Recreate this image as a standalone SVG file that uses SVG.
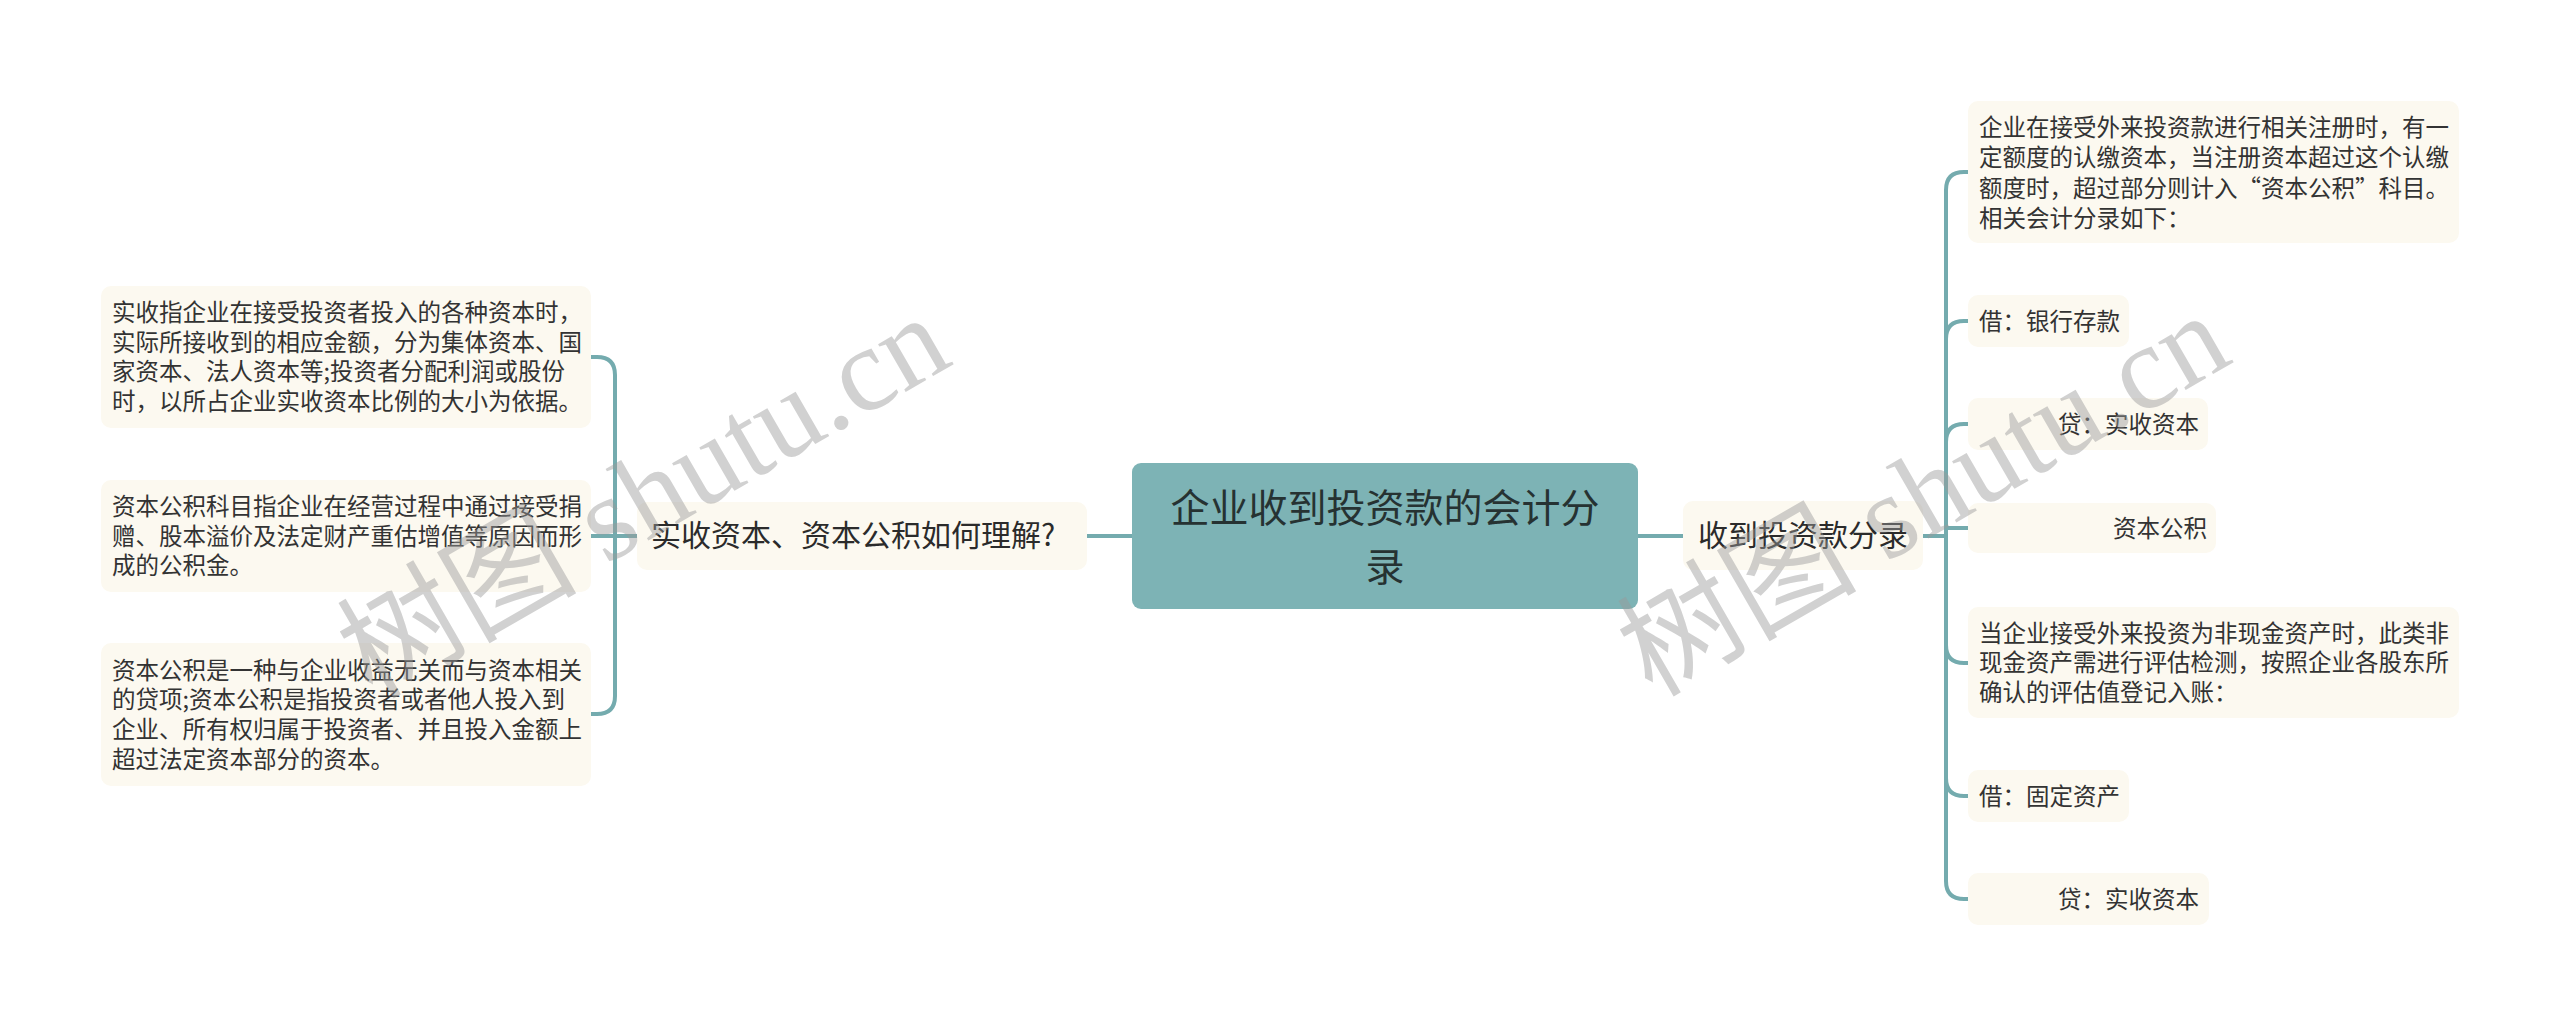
<svg xmlns="http://www.w3.org/2000/svg" width="2560" height="1027" viewBox="0 0 2560 1027">
<style>
.leaf{fill:#fcf9f0;}
.branch{fill:#fcf9f0;}
.root{fill:#7db3b5;}
.t{font-family:"Noto Sans CJK SC","Noto Sans",sans-serif;fill:#333333;}
.lt{font-size:23.5px;}
.bt{font-size:30px;fill:#2b2b2b;}
.rt{font-size:39px;fill:#263232;text-anchor:middle;}
.conn{fill:none;stroke:#74abae;stroke-width:4;stroke-linecap:round;}
.wm{font-family:"Liberation Serif","Noto Sans CJK SC",serif;font-size:120px;fill:#9a9a9a;opacity:0.45;}
</style>
<rect width="2560" height="1027" fill="#ffffff"/>
<g id="connectors">
<path class="conn" d="M1132 536 H1087"/>
<path class="conn" d="M1638 536 H1683"/>
<path class="conn" d="M637 536 H615"/>
<path class="conn" d="M615 536 V375 Q615 357 597 357 H591"/>
<path class="conn" d="M615 536 H591"/>
<path class="conn" d="M615 536 V696 Q615 714 597 714 H591"/>
<path class="conn" d="M1923 536 H1946"/>
<path class="conn" d="M1946 536 V190 Q1946 172 1964 172 H1968"/>
<path class="conn" d="M1946 536 V339 Q1946 321 1964 321 H1968"/>
<path class="conn" d="M1946 536 V442 Q1946 424 1964 424 H1968"/>
<path class="conn" d="M1946 528 H1968"/>
<path class="conn" d="M1946 536 V645 Q1946 663 1964 663 H1968"/>
<path class="conn" d="M1946 536 V778 Q1946 796 1964 796 H1968"/>
<path class="conn" d="M1946 536 V881 Q1946 899 1964 899 H1968"/>
</g>
<g id="root">
<rect class="root" x="1132" y="463" width="506" height="146" rx="9"/>
<text class="t rt" x="1385" y="522">企业收到投资款的会计分</text>
<text class="t rt" x="1385" y="581">录</text>
</g>
<g id="branch-left">
<rect class="branch" x="637" y="502" width="450" height="68" rx="10"/>
<text class="t bt" x="651" y="546">实收资本、资本公积如何理解?</text>
</g>
<g id="branch-right">
<rect class="branch" x="1683" y="501" width="240" height="69" rx="10"/>
<text class="t bt" x="1803" y="546" text-anchor="middle">收到投资款分录</text>
</g>
<g id="left-1">
<rect class="leaf" x="101" y="286" width="490" height="142" rx="10"/>
<text class="t lt" x="112" y="321">实收指企业在接受投资者投入的各种资本时，</text>
<text class="t lt" x="112" y="350.7">实际所接收到的相应金额，分为集体资本、国</text>
<text class="t lt" x="112" y="380.4">家资本、法人资本等;投资者分配利润或股份</text>
<text class="t lt" x="112" y="410.1">时，以所占企业实收资本比例的大小为依据。</text>
</g>
<g id="left-2">
<rect class="leaf" x="101" y="480" width="490" height="112" rx="10"/>
<text class="t lt" x="112" y="514.8">资本公积科目指企业在经营过程中通过接受捐</text>
<text class="t lt" x="112" y="544.5">赠、股本溢价及法定财产重估增值等原因而形</text>
<text class="t lt" x="112" y="574.2">成的公积金。</text>
</g>
<g id="left-3">
<rect class="leaf" x="101" y="643" width="490" height="143" rx="10"/>
<text class="t lt" x="112" y="678.5">资本公积是一种与企业收益无关而与资本相关</text>
<text class="t lt" x="112" y="708.2">的贷项;资本公积是指投资者或者他人投入到</text>
<text class="t lt" x="112" y="737.9">企业、所有权归属于投资者、并且投入金额上</text>
<text class="t lt" x="112" y="767.6">超过法定资本部分的资本。</text>
</g>
<g id="right-1">
<rect class="leaf" x="1968" y="101" width="491" height="142" rx="10"/>
<text class="t lt" x="1979" y="136">企业在接受外来投资款进行相关注册时，有一</text>
<text class="t lt" x="1979" y="166.4">定额度的认缴资本，当注册资本超过这个认缴</text>
<text class="t lt" x="1979" y="196.8">额度时，超过部分则计入“资本公积”科目。</text>
<text class="t lt" x="1979" y="227.2">相关会计分录如下：</text>
</g>
<g id="right-2">
<rect class="leaf" x="1968" y="295" width="161" height="52" rx="10"/>
<text class="t lt" x="1979" y="329.5">借：银行存款</text>
</g>
<g id="right-3">
<rect class="leaf" x="1968" y="398" width="240" height="52" rx="10"/>
<text class="t lt" x="2058" y="432.5">贷：实收资本</text>
</g>
<g id="right-4">
<rect class="leaf" x="1968" y="503" width="248" height="50" rx="10"/>
<text class="t lt" x="2113" y="537">资本公积</text>
</g>
<g id="right-5">
<rect class="leaf" x="1968" y="607" width="491" height="111" rx="10"/>
<text class="t lt" x="1979" y="641.5">当企业接受外来投资为非现金资产时，此类非</text>
<text class="t lt" x="1979" y="671.2">现金资产需进行评估检测，按照企业各股东所</text>
<text class="t lt" x="1979" y="700.9">确认的评估值登记入账：</text>
</g>
<g id="right-6">
<rect class="leaf" x="1968" y="770" width="161" height="52" rx="10"/>
<text class="t lt" x="1979" y="804.5">借：固定资产</text>
</g>
<g id="right-7">
<rect class="leaf" x="1968" y="873" width="241" height="52" rx="10"/>
<text class="t lt" x="2058" y="907.5">贷：实收资本</text>
</g>
<g id="watermarks">
<text class="wm" transform="translate(372 700) rotate(-30)">树图 shutu.cn</text>
<text class="wm" transform="translate(1652 698) rotate(-30)">树图 shutu.cn</text>
</g>
</svg>
